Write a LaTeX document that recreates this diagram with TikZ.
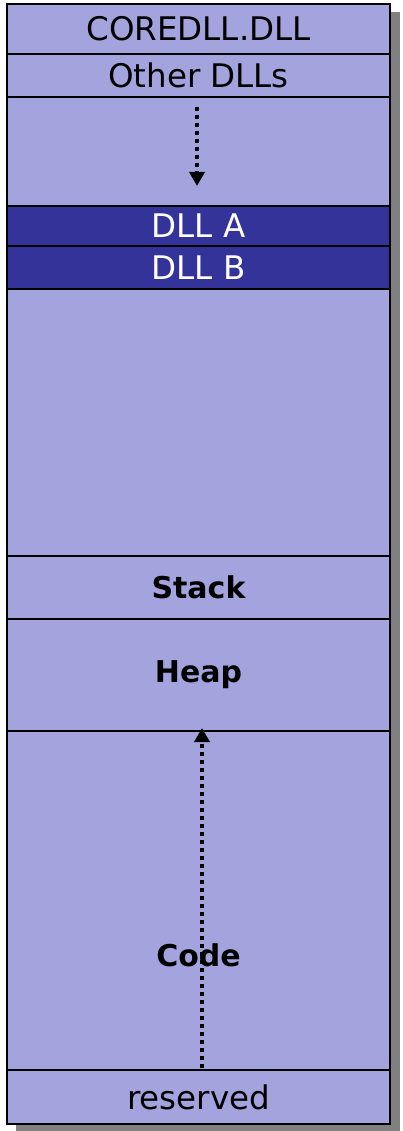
\documentclass[tikz,border=0pt]{standalone}
\usepackage{fontspec}
\setmainfont{DejaVu Sans}
\usetikzlibrary{positioning,arrows.meta}
\definecolor{memlight}{HTML}{A3A3DE}
\definecolor{memdark}{HTML}{333399}
\definecolor{memshadow}{HTML}{808080}
\begin{document}
\begin{tikzpicture}[x=1pt, y=-1pt, >={Triangle[width=15pt, length=14pt]},
	seg/.style={draw, line width=2pt, fill=memlight, minimum width=383pt, inner sep=0pt, outer sep=0pt, font=\fontsize{32.5}{32.5}\selectfont},
	dll/.style={seg, fill=memdark, text=white},
	lbl/.style={font=\fontsize{30}{30}\selectfont\bfseries, inner sep=0pt},
	growarrow/.style={->, line width=4pt, dash pattern=on 4pt off 4pt}]

	\useasboundingbox (0,0) rectangle (403,1131);
	\fill [memshadow] (16,12) rectangle (400,1131);

	\node [seg, minimum height=50pt] (core) at (198.5,29) {COREDLL.DLL};
	\node [seg, minimum height=43pt, below=0pt of core] (other) {Other DLLs};
	\node [seg, minimum height=109pt, below=0pt of other] (gap) {};
	\node [dll, minimum height=40pt, below=0pt of gap] (dlla) {DLL A};
	\node [dll, minimum height=43pt, below=0pt of dlla] (dllb) {DLL B};
	\node [seg, minimum height=267pt, below=0pt of dllb] (free) {};
	\node [seg, minimum height=63pt, below=0pt of free, font=\fontsize{30}{30}\selectfont\bfseries] (stack) {Stack};
	\node [seg, minimum height=112pt, below=0pt of stack, font=\fontsize{30}{30}\selectfont\bfseries] (heap) {Heap};
	\node [seg, minimum height=339pt, below=0pt of heap] (code) {};
	\node [seg, minimum height=54pt, below=0pt of code] (reserved) {reserved};

	\node [lbl] (codelbl) at ([yshift=115pt]code.south) {Code};

	% growth of the DLL area and of the heap
	\coordinate (g1) at ([xshift=-1.5pt, yshift=-10pt]gap.north);
	\coordinate (g2) at ([xshift=-1.5pt, yshift=20pt]gap.south);
	\draw [growarrow] (g1) -- (g2);

	\coordinate (c1) at ([xshift=3.5pt, yshift=2pt]code.south);
	\coordinate (c2) at ([xshift=3.5pt, yshift=3pt]code.north);
	\draw [growarrow] (c1) -- (c2);

\end{tikzpicture}
\end{document}
